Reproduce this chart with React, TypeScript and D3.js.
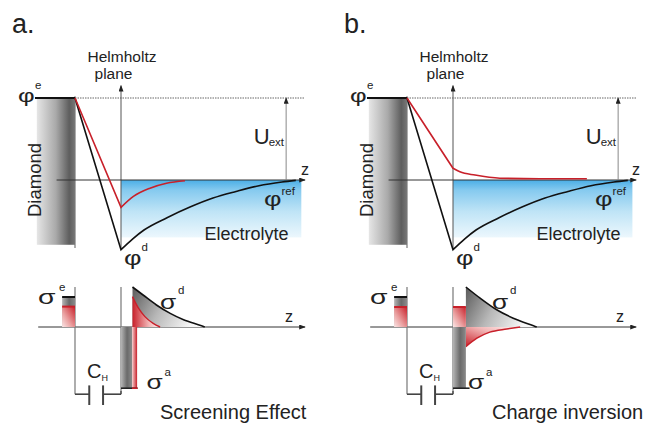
import * as d3 from 'd3';
import React from 'react';

// potential profiles: z in units of the Helmholtz distance, phi in units of U_ext
const blackPhi: [number, number][] = [[1, -0.85], [1.25, -0.72], [1.5, -0.61], [2, -0.46], [2.5, -0.33], [3, -0.22], [3.5, -0.14], [4, -0.07], [4.5, -0.025], [4.8, -0.005]];
const redPhiA: [number, number][] = [[1, -0.333], [1.27, -0.2], [1.63, -0.1], [1.99, -0.04], [2.39, -0.01]];
const redPhiB: [number, number][] = [[1, 0.143], [1.15, 0.1], [1.48, 0.06], [2.02, 0.022], [2.89, 0.016], [3.91, 0.016]];

// charge distributions (sigma in arbitrary units)
const sigmaDA: [number, number][] = [[1.25, 1.0], [1.48, 0.8], [1.77, 0.55], [2.07, 0.34], [2.36, 0.18], [2.75, 0.03], [2.82, 0]];
const sigmaDB: [number, number][] = [[1.28, 1.0], [1.59, 0.72], [1.95, 0.43], [2.31, 0.22], [2.75, 0.03], [2.82, 0]];
const redDA: [number, number][] = [[1.25, 0.76], [1.38, 0.47], [1.52, 0.26], [1.7, 0.09], [1.85, 0.0]];
const redDB: [number, number][] = [[1.28, -0.49], [1.52, -0.28], [1.8, -0.13], [2.17, -0.05], [2.46, 0.0]];

// sigma^e: [black, red], sigma^a: [gray bottom, red]
const sigmaEA = [0.75, 0.51];
const sigmaEB = [0.75, 0.5];
const sigmaAA = [-1.53, -1.53];
const sigmaAB = [-1.53, 0.5];

const font = '"Liberation Sans", Arial, sans-serif';
const red = '#c8202a';

// greek symbol with superscript
function Sym({ x, y, ch, sup, size, sx = 1, supDx, supDy }: any) {
  return (
    <g fill="#222">
      <text transform={`translate(${x},${y}) scale(${sx},1)`} fontFamily={font} fontSize={size}>{ch}</text>
      <text x={x + supDx} y={y - supDy} fontFamily={font} fontSize={11.5}>{sup}</text>
    </g>
  );
}

function Panel({ ox, letter, caption, redPhi, sigmaD, redD, sigmaE, sigmaA, inverted, zEnd, sigmaALabel }: any) {
  const x = d3.scaleLinear().domain([0, 1]).range([ox, ox + 46]);
  const y = d3.scaleLinear().domain([0, 1]).range([180, 98]);
  const s = d3.scaleLinear().domain([0, 1]).range([327, 287]);
  const id = letter[0];

  const lineP = d3.line<[number, number]>().x(d => x(d[0])).y(d => y(d[1])).curve(d3.curveMonotoneX);
  const lineS = d3.line<[number, number]>().x(d => x(d[0])).y(d => s(d[1])).curve(d3.curveMonotoneX);
  const areaS = d3.area<[number, number]>().x(d => x(d[0])).y0(s(0)).y1(d => s(d[1])).curve(d3.curveMonotoneX);

  const kink = (d: [number, number][]) => `M${x(0)},${y(1)}L${x(d[0][0])},${y(d[0][1])}`;

  return (
    <g>
      <text x={x(0) - 63} y={33} fontSize={27} fill="#222">{letter}</text>

      {/* electrode */}
      <rect x={x(-0.83)} y={y(1)} width={x(0) - x(-0.83)} height={y(-0.79) - y(1)} fill={`url(#dia${id})`} />
      <line x1={x(0)} x2={x(0)} y1={y(1.02)} y2={y(-0.83)} stroke="#777" strokeWidth={1.2} />
      <line x1={x(-0.87)} x2={x(0)} y1={y(1)} y2={y(1)} stroke="#111" strokeWidth={2} />
      <line x1={x(0)} x2={x(zEnd)} y1={y(1)} y2={y(1)} stroke="#666" strokeWidth={1} strokeDasharray="1.5,1" />

      {/* electrolyte */}
      <rect x={x(1)} y={y(0)} width={x(zEnd - 0.08) - x(1)} height={y(-0.7) - y(0)} fill={`url(#blue${id})`} />

      {/* axes */}
      <line x1={x(1)} x2={x(1)} y1={y(-0.83)} y2={y(1.15)} stroke="#555" strokeWidth={1} markerEnd="url(#arr)" />
      <line x1={x(-0.4)} x2={x(zEnd)} y1={y(0)} y2={y(0)} stroke="#333" strokeWidth={1} markerEnd="url(#arr)" />
      <line x1={x(4.59)} x2={x(4.59)} y1={y(0)} y2={y(1)} stroke="#888" strokeWidth={1} markerEnd="url(#arr)" />

      {/* potential curves */}
      <path d={kink(blackPhi) + lineP(blackPhi)!.replace('M', 'L')} fill="none" stroke="#111" strokeWidth={1.6} />
      <path d={kink(redPhi) + lineP(redPhi)!.replace('M', 'L')} fill="none" stroke={red} strokeWidth={1.6} />

      <g fontFamily={font} fill="#222">
        <text x={x(1) + 1} y={62} fontSize={15.5} textAnchor="middle">Helmholtz</text>
        <text x={x(1) - 7.5} y={78.5} fontSize={15.5} textAnchor="middle">plane</text>
        <text transform={`translate(${x(0) - 34},${y(0)}) rotate(-90)`} fontSize={18.5} textAnchor="middle">Diamond</text>
        <text x={x(4.59) - 32.5} y={143.5} fontSize={22}>U</text>
        <text x={x(4.59) - 17.5} y={146} fontSize={11.5}>ext</text>
        <text x={x(zEnd) - 4} y={175} fontSize={16}>z</text>
        <text x={x(4.59) + 2.5} y={240} fontSize={18} textAnchor="end">Electrolyte</text>
      </g>
      <Sym x={x(0) - 57} y={101.5} ch="φ" sup="e" size={19} sx={1.35} supDx={17} supDy={13} />
      <Sym x={x(zEnd) - 41} y={205.5} ch="φ" sup="ref" size={20} sx={1.35} supDx={17.5} supDy={11} />
      <Sym x={x(1) + 3} y={265} ch="φ" sup="d" size={20} sx={1.35} supDx={17.5} supDy={14} />

      {/* charge diagram */}
      <line x1={x(-0.8)} x2={x(zEnd)} y1={s(0)} y2={s(0)} stroke="#333" strokeWidth={1} markerEnd="url(#arr)" />
      <line x1={x(0)} x2={x(0)} y1={s(1)} y2={s(-1.68)} stroke="#777" strokeWidth={1.2} />
      <line x1={x(1)} x2={x(1)} y1={s(1)} y2={s(-1.6)} stroke="#777" strokeWidth={1.2} />

      {/* sigma e */}
      <rect x={x(-0.28)} y={s(sigmaE[0])} width={x(0) - x(-0.28)} height={s(0) - s(sigmaE[0])} fill="url(#grayBar)" />
      <rect x={x(-0.28)} y={s(sigmaE[1])} width={x(0) - x(-0.28)} height={s(0) - s(sigmaE[1])} fill={`url(#redV${id})`} />
      <line x1={x(-0.28)} x2={x(0)} y1={s(sigmaE[0])} y2={s(sigmaE[0])} stroke="#111" strokeWidth={2} />
      <line x1={x(-0.28)} x2={x(0)} y1={s(sigmaE[1])} y2={s(sigmaE[1])} stroke={red} strokeWidth={2} />

      {/* sigma d */}
      <path d={areaS(sigmaD)!} fill={`url(#grayFade${id})`} />
      <path d={areaS(redD)!} fill={`url(#redFade${id})`} />
      <path d={lineS(sigmaD)!} fill="none" stroke="#111" strokeWidth={1.6} />
      <path d={lineS(redD)!} fill="none" stroke={red} strokeWidth={1.4} />

      {/* sigma a */}
      {inverted ? (
        <g>
          <rect x={x(1)} y={s(0)} width={x(1.28) - x(1)} height={s(sigmaA[0]) - s(0)} fill="url(#grayBar)" />
          <rect x={x(1)} y={s(sigmaA[1])} width={x(1.28) - x(1)} height={s(0) - s(sigmaA[1])} fill={`url(#redV${id})`} />
          <line x1={x(1)} x2={x(1.28)} y1={s(sigmaA[1])} y2={s(sigmaA[1])} stroke={red} strokeWidth={2} />
          <line x1={x(1)} x2={x(1.36)} y1={s(sigmaA[0])} y2={s(sigmaA[0])} stroke="#222" strokeWidth={1.6} />
        </g>
      ) : (
        <g>
          <rect x={x(1)} y={s(0)} width={x(1.24) - x(1)} height={s(sigmaA[0]) - s(0)} fill="url(#grayBar)" />
          <rect x={x(1.24)} y={s(0)} width={x(1.35) - x(1.24)} height={s(sigmaA[1]) - s(0)} fill="url(#redBar)" />
          <line x1={x(1)} x2={x(1.36)} y1={s(sigmaA[0])} y2={s(sigmaA[0])} stroke="#222" strokeWidth={1.6} />
          <line x1={x(1.24)} x2={x(1.36)} y1={s(sigmaA[1])} y2={s(sigmaA[1])} stroke={red} strokeWidth={1.6} />
        </g>
      )}

      {/* Helmholtz capacitor */}
      <g stroke="#444" strokeWidth={1.6}>
        <line x1={x(0)} x2={x(0.31)} y1={s(-1.68)} y2={s(-1.68)} />
        <line x1={x(0.31)} x2={x(0.31)} y1={s(-1.46)} y2={s(-1.95)} strokeWidth={2} />
        <line x1={x(0.61)} x2={x(0.61)} y1={s(-1.46)} y2={s(-1.95)} strokeWidth={2} />
        <line x1={x(0.61)} x2={x(1)} y1={s(-1.68)} y2={s(-1.68)} />
        <line x1={x(1)} x2={x(1)} y1={s(-1.6)} y2={s(-1.68)} />
      </g>

      <Sym x={x(0) - 37} y={303.5} ch="σ" sup="e" size={21} sx={1.35} supDx={21} supDy={13} />
      <Sym x={x(1) + 39} y={309} ch="σ" sup="d" size={21} sx={1.25} supDx={18} supDy={15} />
      <Sym x={x(1) + sigmaALabel} y={389} ch="σ" sup="a" size={21} sx={1.25} supDx={18} supDy={13} />
      <g fontFamily={font} fill="#222">
        <text x={x(0) + 12} y={378} fontSize={20}>C</text>
        <text x={x(0) + 26.5} y={381} fontSize={9}>H</text>
        <text x={x(zEnd) - 20} y={322} fontSize={16}>z</text>
        <text x={x(1) + 39} y={419} fontSize={20}>{caption}</text>
      </g>
    </g>
  );
}

function Defs({ id }: { id: string }) {
  return (
    <>
      <linearGradient id={`dia${id}`} x1="0" x2="1" y1="0" y2="0">
        <stop offset="0" stopColor="#e6e6e6" />
        <stop offset="0.5" stopColor="#a9a9a9" />
        <stop offset="0.85" stopColor="#5e5e5e" />
        <stop offset="1" stopColor="#777" />
      </linearGradient>
      <linearGradient id={`blue${id}`} x1="0" x2="0" y1="0" y2="1">
        <stop offset="0" stopColor="#4aaee6" />
        <stop offset="0.18" stopColor="#86caef" />
        <stop offset="0.55" stopColor="#bfe4f6" />
        <stop offset="1" stopColor="#ecf7fd" />
      </linearGradient>
      <linearGradient id={`grayFade${id}`} x1="0" x2="1" y1="0" y2="0.3">
        <stop offset="0" stopColor="#5a5a5a" />
        <stop offset="0.5" stopColor="#b8b8b8" />
        <stop offset="1" stopColor="#f8f8f8" />
      </linearGradient>
      <linearGradient id={`redFade${id}`} x1="0" x2="1" y1={id === 'b' ? '1' : '0'} y2="0">
        <stop offset="0" stopColor="#c8202a" />
        <stop offset="0.6" stopColor="#f2b8b8" />
        <stop offset="1" stopColor="#fff4f4" />
      </linearGradient>
      <linearGradient id={`redV${id}`} x1="1" x2="0" y1="0" y2="1">
        <stop offset="0" stopColor="#c8202a" />
        <stop offset="0.6" stopColor="#eaa0a0" />
        <stop offset="1" stopColor="#fbe6e6" />
      </linearGradient>
    </>
  );
}

export default function App() {
  return (
    <svg width={647} height={424} style={{ position: 'absolute', left: 0, top: 0, background: '#fff' }} fontFamily={font}>
      <defs>
        <marker id="arr" viewBox="0 0 8 6" refX="7" refY="3" markerWidth="7" markerHeight="5" markerUnits="userSpaceOnUse" orient="auto">
          <path d="M0,0L8,3L0,6z" fill="#222" />
        </marker>
        <Defs id="a" />
        <Defs id="b" />
        <linearGradient id="grayBar" x1="0" x2="1" y1="0" y2="0">
          <stop offset="0" stopColor="#b5b5b5" />
          <stop offset="0.55" stopColor="#6a6a6a" />
          <stop offset="1" stopColor="#8a8a8a" />
        </linearGradient>
        <linearGradient id="redBar" x1="0" x2="1" y1="0" y2="0">
          <stop offset="0" stopColor="#f6d0d0" />
          <stop offset="1" stopColor="#c8202a" />
        </linearGradient>
      </defs>
      <Panel ox={75} letter="a." caption="Screening Effect" redPhi={redPhiA} sigmaD={sigmaDA} redD={redDA}
        sigmaE={sigmaEA} sigmaA={sigmaAA} inverted={false} zEnd={5.0} sigmaALabel={25.5} />
      <Panel ox={407} letter="b." caption="Charge inversion" redPhi={redPhiB} sigmaD={sigmaDB} redD={redDB}
        sigmaE={sigmaEB} sigmaA={sigmaAB} inverted={true} zEnd={4.98} sigmaALabel={15} />
    </svg>
  );
}
